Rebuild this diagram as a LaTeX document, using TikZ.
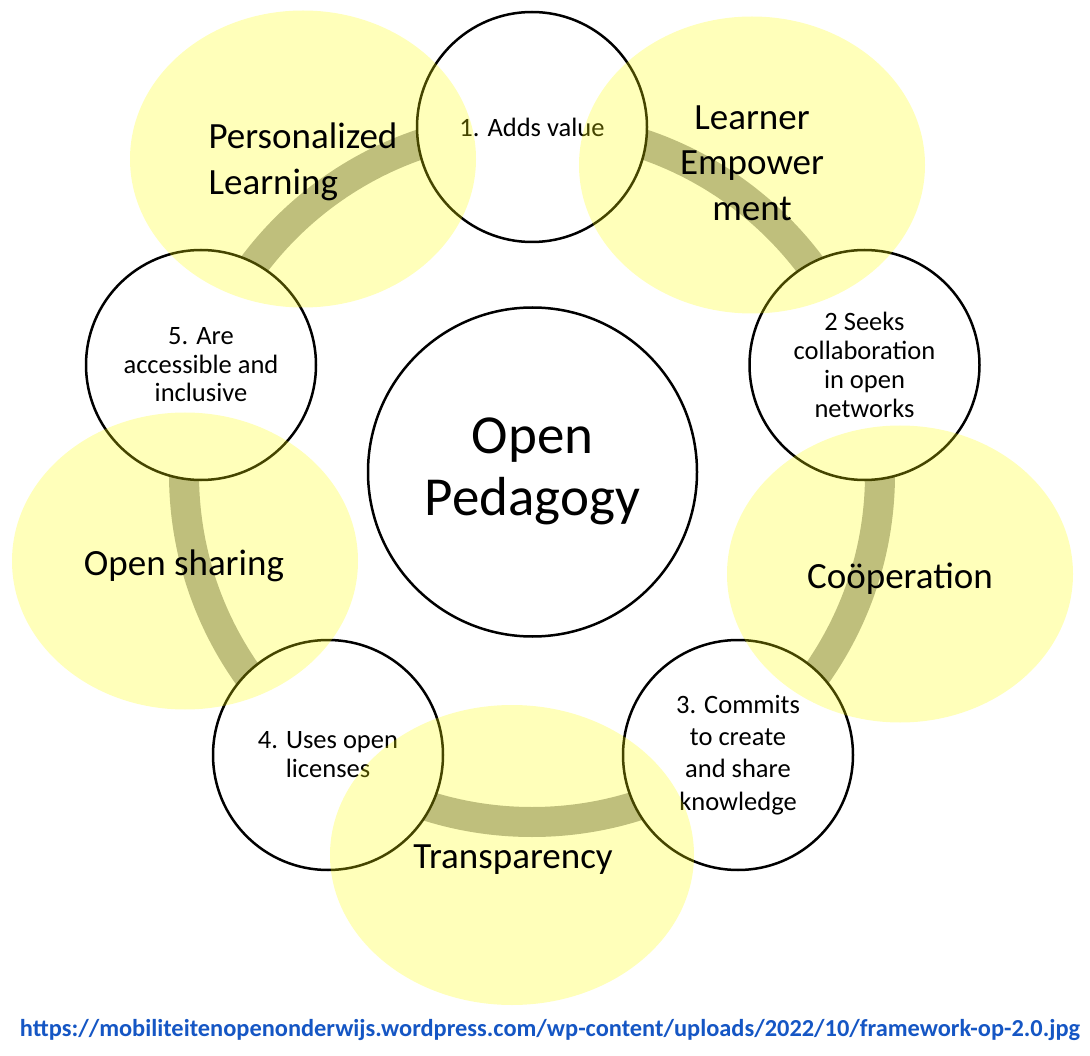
\documentclass[tikz,border=0pt]{standalone}
\usepackage{fontspec}
\setmainfont{Carlito}
\usetikzlibrary{shapes.geometric}
\definecolor{ringc}{RGB}{168,168,170}
\definecolor{urlc}{RGB}{21,86,196}
\definecolor{ellc}{RGB}{255,255,0}
\begin{document}
\begin{tikzpicture}[x=1pt,y=-1pt,
  smallc/.style={circle, draw=black, line width=2.5pt, fill=white, minimum size=230pt, inner sep=0pt, align=center, font=\fontsize{26.5}{29}\selectfont},
  bigc/.style={circle, draw=black, line width=2.5pt, fill=white, minimum size=329pt, inner sep=0pt, align=center, font=\fontsize{55}{61}\selectfont},
  ell/.style={ellipse, fill=ellc, fill opacity=0.27, minimum width=346pt, minimum height=297pt, inner sep=0pt},
  elltext/.style={inner sep=0pt, align=center, font=\fontsize{37}{45.5}\selectfont}
]
\useasboundingbox (0,0) rectangle (1090,1056);
\coordinate (ctr) at (532,474);
\draw[ringc, line width=30pt] (ctr) circle[radius=348];
\node[bigc] (op) at (532.5,472) {\raisebox{-3pt}{\begin{tabular}{@{}c@{}}Open\\[1pt]Pedagogy\end{tabular}}};
\node[smallc] (c1) at (532,127) {1. Adds value};
\node[smallc] (c2) at (864.5,365) {2 Seeks\\collaboration\\in open\\networks};
\node[smallc, font=\fontsize{26.5}{32.3}\selectfont] (c3) at (738,755) {3. Commits\\to create\\and share\\knowledge};
\node[smallc] (c4) at (328,755) {4. Uses open\\licenses};
\node[smallc, font=\fontsize{26.5}{28.5}\selectfont] (c5) at (201,365) {5. Are\\accessible and\\inclusive};
\node[ell] (e1) at (303,159) {};
\node[ell] (e2) at (752,165) {};
\node[ell] (e3) at (900,574) {};
\node[ell, minimum width=364pt, minimum height=300pt] (e4) at (512,855) {};
\node[ell] (e5) at (185,561) {};
\node[elltext, align=left] (e1t) at (303,162) {Personalized\\Learning};
\node[elltext] (e2t) at (752,163) {Learner\\Empower\\ment};
\node[elltext] (e3t) at (900,579) {Coöperation};
\node[elltext] (e4t) at (513,860) {Transparency};
\node[elltext] (e5t) at (184,566) {Open sharing};
\node[text=urlc, font=\fontsize{23}{26}\selectfont\bfseries, inner sep=0pt] (url) at (550,1030)
  {\resizebox{1060pt}{!}{https://mobiliteitenopenonderwijs.wordpress.com/wp-content/uploads/2022/10/framework-op-2.0.jpg}};
\end{tikzpicture}
\end{document}
